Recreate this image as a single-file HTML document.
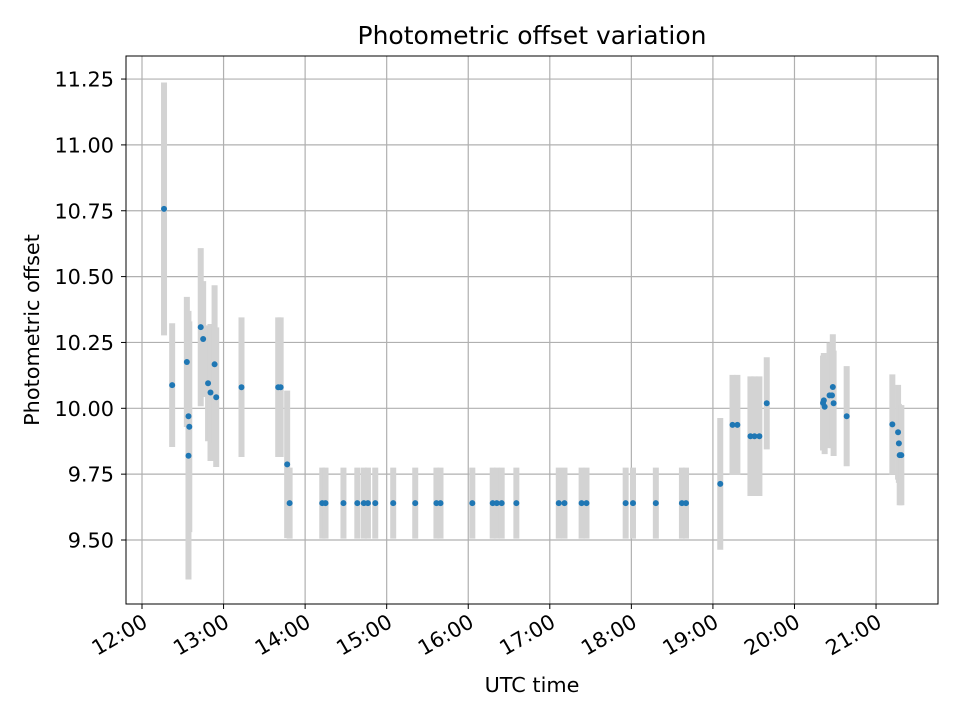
<!DOCTYPE html>
<html><head><meta charset="utf-8"><style>
body{margin:0;background:#fff;font-family:"Liberation Sans","DejaVu Sans",sans-serif}
svg text{font-family:"DejaVu Sans","Liberation Sans",sans-serif}
</style></head><body>
<svg id="chart" width="960" height="720" xmlns="http://www.w3.org/2000/svg"></svg>
<script>
const times = [12.27,12.37,12.55,12.57,12.58,12.57,12.72,12.75,12.81,12.84,12.89,12.91,13.22,13.67,13.70,13.78,13.81,
14.21,14.25,14.47,14.64,14.72,14.77,14.86,15.08,15.35,15.61,15.66,16.05,16.30,16.35,16.41,16.59,17.11,17.18,17.39,17.45,17.93,18.02,18.30,18.62,18.67,
19.09,19.24,19.30,19.46,19.51,19.57,19.66,20.35,20.36,20.37,20.43,20.46,20.47,20.48,20.64,21.20,21.27,21.28,21.29,21.31];
const values = [10.757,10.088,10.176,9.97,9.93,9.82,10.308,10.263,10.095,10.06,10.167,10.042,10.08,10.08,10.08,9.787,9.64,
9.64,9.64,9.64,9.64,9.64,9.64,9.64,9.64,9.64,9.64,9.64,9.64,9.64,9.64,9.64,9.64,9.64,9.64,9.64,9.64,9.64,9.64,9.64,9.64,9.64,
9.713,9.937,9.937,9.894,9.894,9.894,10.019,10.02,10.03,10.006,10.049,10.049,10.081,10.019,9.97,9.939,9.909,9.867,9.822,9.822];
const errors = [0.48,0.235,0.247,0.4,0.4,0.47,0.30,0.22,0.22,0.26,0.3,0.265,0.265,0.265,0.265,0.28,0.135,
0.135,0.135,0.135,0.135,0.135,0.135,0.135,0.135,0.135,0.135,0.135,0.135,0.135,0.135,0.135,0.135,0.135,0.135,0.135,0.135,0.135,0.135,0.135,0.135,0.135,
0.25,0.19,0.19,0.227,0.227,0.227,0.175,0.18,0.18,0.18,0.2,0.2,0.2,0.2,0.19,0.19,0.18,0.15,0.19,0.19];
const xTicks = [12,13,14,15,16,17,18,19,20,21];
const xTickLabels = ["12:00","13:00","14:00","15:00","16:00","17:00","18:00","19:00","20:00","21:00"];
const yTicks = [9.5,9.75,10.0,10.25,10.5,10.75,11.0,11.25];
const yTickLabels = ["9.50","9.75","10.00","10.25","10.50","10.75","11.00","11.25"];

const L=126,R=938,T=56,B=604;
const x = t => 142 + (t-12)*81.56;
const y = v => 540 - (v-9.5)*263.4;
const svg=document.getElementById('chart');
const NS='http://www.w3.org/2000/svg';
function mk(tag,attrs,parent){const e=document.createElementNS(NS,tag);for(const k in attrs)e.setAttribute(k,attrs[k]);(parent||svg).appendChild(e);return e;}

mk('rect',{x:0,y:0,width:960,height:720,fill:'#fff'});
const grid=mk('g',{});


xTicks.forEach(t=>mk('line',{x1:x(t),x2:x(t),y1:T,y2:B,stroke:'#b0b0b0','stroke-width':1.2},grid));
yTicks.forEach(v=>mk('line',{x1:L,x2:R,y1:y(v),y2:y(v),stroke:'#b0b0b0','stroke-width':1.2},grid));

const bars=mk('g',{});


times.forEach((t,i)=>{const l=mk('line',{x1:x(t),x2:x(t),y1:y(values[i]+errors[i]),y2:y(values[i]-errors[i]),stroke:'#d3d3d3','stroke-width':6},bars);

});
const pts=mk('g',{});


times.forEach((t,i)=>{const c=mk('circle',{cx:x(t),cy:y(values[i]),r:3,fill:'#1f77b4'},pts);

});

const frame=mk('rect',{x:L,y:T,width:R-L,height:B-T,fill:'none',stroke:'#000','stroke-width':1});



const xa=mk('g',{});


xTicks.forEach((t,i)=>{mk('line',{x1:x(t),x2:x(t),y1:B,y2:B+5,stroke:'#000'},xa);
const ax=x(t)+7, ay=B+22;
const tx=mk('text',{x:ax,y:ay,'font-size':20.8,'text-anchor':'end',transform:`rotate(-30 ${ax} ${ay})`},xa);tx.textContent=xTickLabels[i];

});
const ya=mk('g',{});


yTicks.forEach((v,i)=>{mk('line',{x1:L-5,x2:L,y1:y(v),y2:y(v),stroke:'#000'},ya);
const tx=mk('text',{x:L-12,y:y(v)+7.5,'font-size':20.8,'text-anchor':'end'},ya);tx.textContent=yTickLabels[i];

});

const title=mk('text',{x:532,y:44,'font-size':25,'text-anchor':'middle'});title.textContent='Photometric offset variation';


const xt=mk('text',{x:532,y:692,'font-size':20.8,'text-anchor':'middle'});xt.textContent='UTC time';


const yt=mk('text',{x:39,y:330,'font-size':20.8,'text-anchor':'middle',transform:'rotate(-90 39 330)'});yt.textContent='Photometric offset';


</script>
</body></html>
